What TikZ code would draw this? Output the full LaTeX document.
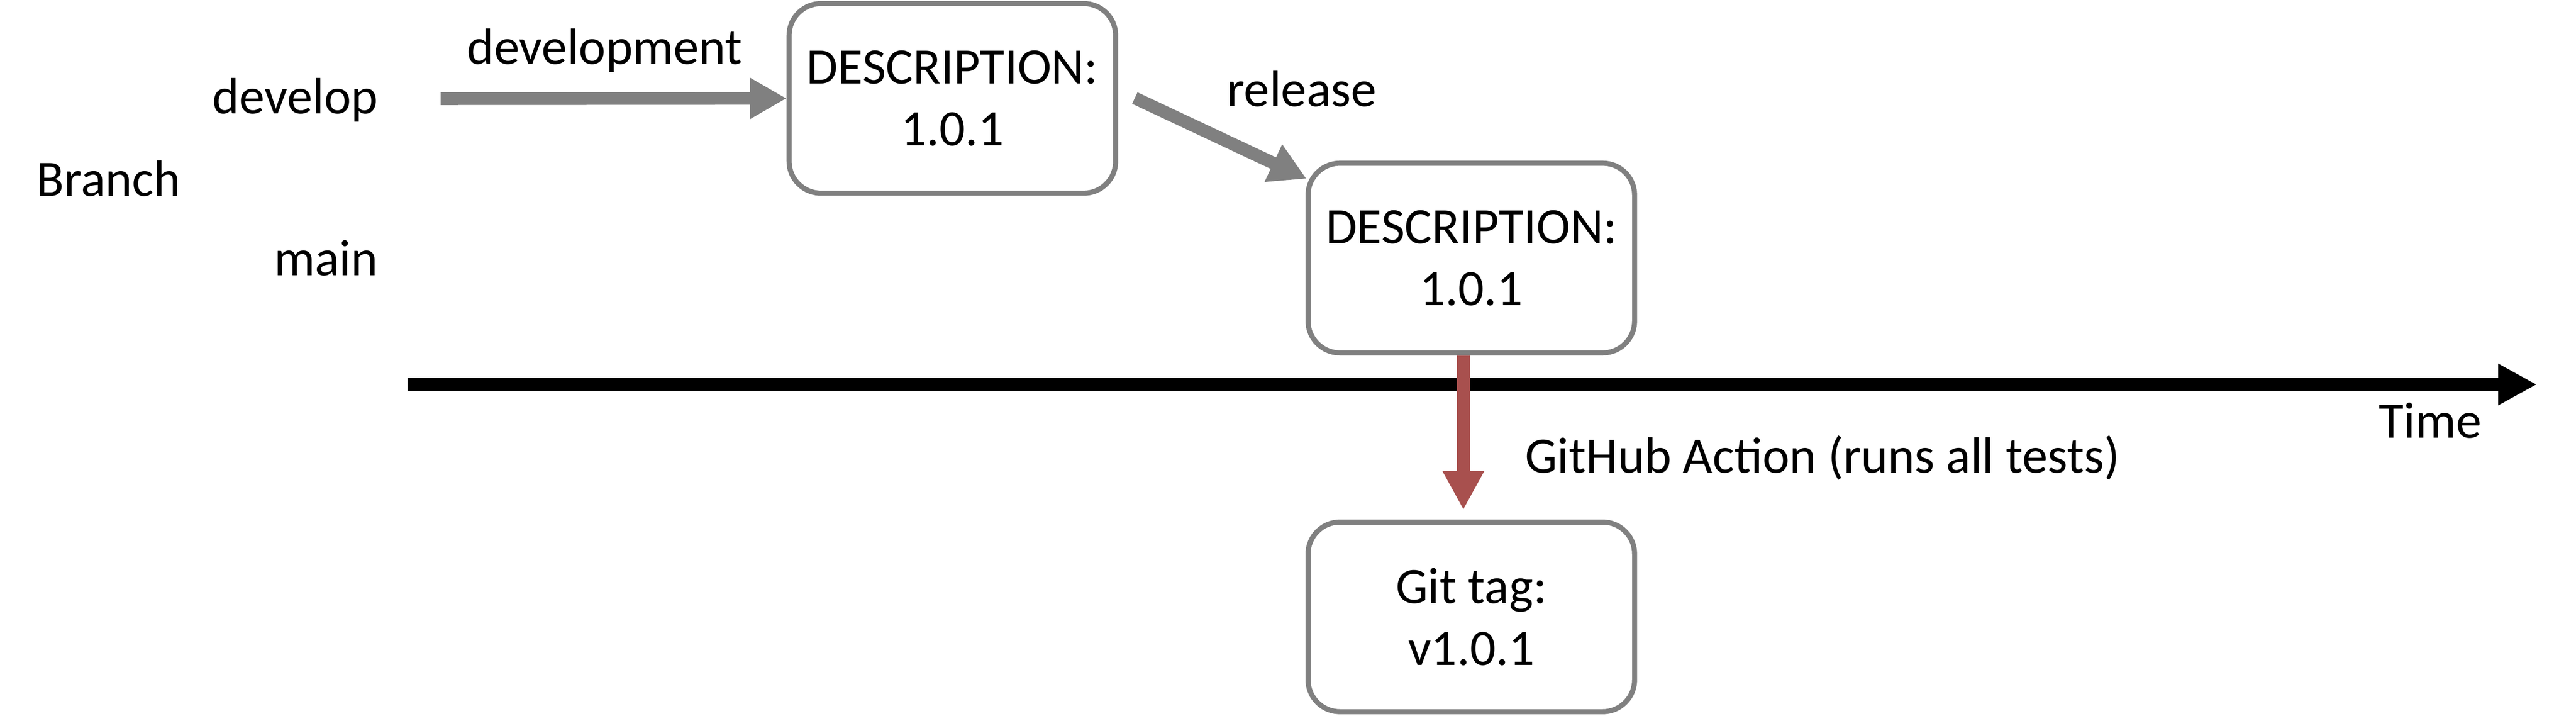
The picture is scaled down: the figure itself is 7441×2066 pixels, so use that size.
\documentclass[tikz,border=0pt]{standalone}
\usepackage{fontspec}
\setmainfont{Carlito}
\usetikzlibrary{arrows.meta}

\begin{document}
\begin{tikzpicture}[x=0.005cm,y=-0.005cm,inner sep=0pt,
    font=\fontsize{21}{25.3}\selectfont,
    verbox/.style={draw=boxcolor,line width=2.1pt,rounded corners=0.46cm,
      minimum width=4.72cm,minimum height=2.74cm,align=center},
    flow/.style={draw=boxcolor,line width=5.2pt,
      -{Triangle[length=0.53cm,width=0.56cm]}},
    timeline/.style={draw=black,line width=5.3pt,
      -{Triangle[length=0.56cm,width=0.56cm]}},
    action/.style={draw=actcolor,line width=5.4pt,
      -{Triangle[length=0.56cm,width=0.56cm]}}]

    \colorlet{boxcolor}{black!50}
    \definecolor{actcolor}{RGB}{168,80,78}

    \useasboundingbox (0,0) rectangle (7441,2066);

    \node[anchor=base east] (develop) at (1093,328) {develop};
    \node[anchor=base west] (branch) at (104,566) {Branch};
    \node[anchor=base east] (main) at (1093,796) {main};

    \node[verbox] (desc1) at (2751,284) {DESCRIPTION:\\1.0.1};
    \node[verbox] (desc2) at (4250,745) {DESCRIPTION:\\1.0.1};
    \node[verbox] (gittag) at (4250,1781) {Git tag:\\v1.0.1};

    % develop -> release
    \coordinate (devstart) at (1273,285);
    \draw[flow] (devstart) -- (desc1.west);
    \node[anchor=base] (devlabel) at (1747,186) {development};

    \coordinate (relstart) at (3278,283);
    \coordinate (relend) at (3774,516);
    \draw[flow] (relstart) -- (relend);
    \node[anchor=base] (rellabel) at (3760,307) {release};

    % time axis
    \coordinate (tstart) at (1177,1110);
    \coordinate (tend) at (7328,1110);
    \draw[timeline] (tstart) -- (tend);
    \node[anchor=base east] (time) at (7170,1264) {Time};

    % tag on main
    \coordinate (tagtip) at (4227,1472);
    \draw[action] (desc2.south -| tagtip) -- (tagtip);
    \node[anchor=base west] (actlabel) at (4404,1366) {GitHub Action (runs all tests)};

\end{tikzpicture}
\end{document}
